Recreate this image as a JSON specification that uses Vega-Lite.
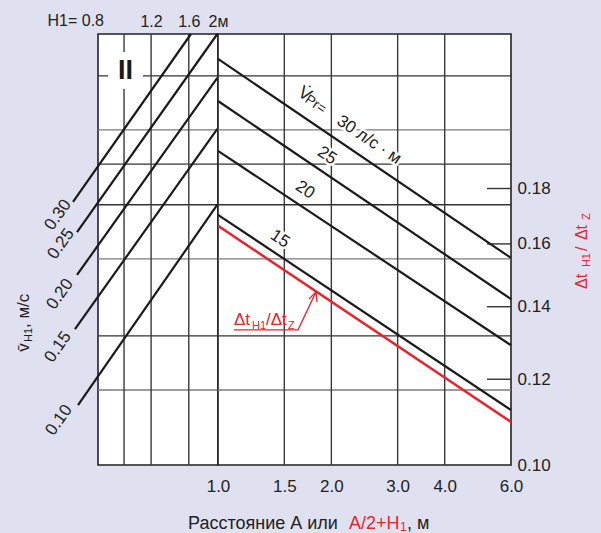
{
  "$schema": "https://vega.github.io/schema/vega-lite/v6.json",
  "background": "#e0e1f0",
  "padding": {"left": 14, "top": 11, "right": 10, "bottom": 2},
  "spacing": 0,
  "bounds": "flush",
  "resolve": {"scale": {"x": "independent", "y": "independent"}},
  "config": {
    "font": "Liberation Sans",
    "view": {"stroke": "#222", "strokeWidth": 1.6, "fill": "white"}
  },
  "datasets": {
    "hDark": [{"r": 0.2287}, {"r": 0.1896}, {"r": 0.1739}, {"r": 0.1316}],
    "hGray": [{"r": 0.2039}, {"r": 0.155}, {"r": 0.1173}],
    "vel": [
      {"vh": 0.30, "H1": 0.661, "r": 0.175}, {"vh": 0.30, "H1": 1.627, "r": 0.25},
      {"vh": 0.25, "H1": 0.6815, "r": 0.1641}, {"vh": 0.25, "H1": 1.99, "r": 0.25},
      {"vh": 0.20, "H1": 0.6815, "r": 0.1498}, {"vh": 0.20, "H1": 1.99, "r": 0.2277},
      {"vh": 0.15, "H1": 0.6711, "r": 0.1335}, {"vh": 0.15, "H1": 1.99, "r": 0.2043},
      {"vh": 0.10, "H1": 0.6867, "r": 0.1136}, {"vh": 0.10, "H1": 1.99, "r": 0.1739}
    ],
    "velLabels": [
      {"t": "0.30", "H1": 0.5894, "r": 0.1702},
      {"t": "0.25", "H1": 0.6031, "r": 0.16},
      {"t": "0.20", "H1": 0.5986, "r": 0.1438},
      {"t": "0.15", "H1": 0.5894, "r": 0.1285},
      {"t": "0.10", "H1": 0.594, "r": 0.11}
    ],
    "flow": [
      {"q": 30, "A": 1, "r": 0.2371}, {"q": 30, "A": 6, "r": 0.1553},
      {"q": 25, "A": 1, "r": 0.2168}, {"q": 25, "A": 6, "r": 0.1423},
      {"q": 20, "A": 1, "r": 0.195}, {"q": 20, "A": 6, "r": 0.129},
      {"q": 15, "A": 1, "r": 0.1702}, {"q": 15, "A": 6, "r": 0.1124}
    ],
    "red": [{"A": 1, "r": 0.1663}, {"A": 6, "r": 0.1096}],
    "flowLabels": [
      {"t": "30 л/с · м", "A": 2.518, "r": 0.1996},
      {"t": "25", "A": 1.948, "r": 0.193},
      {"t": "20", "A": 1.703, "r": 0.1795},
      {"t": "15", "A": 1.461, "r": 0.1617}
    ],
    "vdot": [{"t": "V̇", "A": 1.6973, "r": 0.22}],
    "vsub": [{"t": "Pr=", "A": 1.8156, "r": 0.2152}]
  },
  "hconcat": [
    {
      "width": 120,
      "height": 431,
      "layer": [
        {"data": {"name": "hDark"}, "mark": {"type": "rule", "color": "#333", "strokeWidth": 1.4},
          "encoding": {"y": {"field": "r", "type": "quantitative", "scale": {"type": "log", "domain": [0.1, 0.25], "nice": false}, "axis": null}}},
        {"data": {"name": "hGray"}, "mark": {"type": "rule", "color": "#7a7a7a", "strokeWidth": 1.4},
          "encoding": {"y": {"field": "r", "type": "quantitative", "scale": {"type": "log", "domain": [0.1, 0.25], "nice": false}, "axis": null}}},
        {"data": {"values": [{"H1": 0.976}, {"H1": 1.2}, {"H1": 1.6}]},
          "mark": {"type": "rule", "color": "#3a3a3a", "strokeWidth": 1.4},
          "encoding": {"x": {"field": "H1", "type": "quantitative",
            "scale": {"type": "log", "domain": [0.8, 2], "nice": false},
            "axis": {"orient": "top", "values": [1.2, 1.6, 2],
              "labelExpr": "datum.value == 2 ? '2м' : format(datum.value, '.1f')",
              "ticks": false, "domain": false, "grid": false, "title": null,
              "labelFontSize": 16, "labelColor": "#222", "labelPadding": 5,
              "labelOverlap": false, "labelFlush": false, "labelBound": false}}}},
        {"data": {"values": [{"H1": 0.8635, "H1b": 1.1282, "r": 0.2224, "rb": 0.2406}]},
          "mark": {"type": "rect", "fill": "white"},
          "encoding": {
            "x": {"field": "H1", "type": "quantitative", "scale": {"type": "log", "domain": [0.8, 2], "nice": false}},
            "x2": {"field": "H1b"},
            "y": {"field": "r", "type": "quantitative", "scale": {"type": "log", "domain": [0.1, 0.25], "nice": false}, "axis": null},
            "y2": {"field": "rb"}}},
        {"data": {"values": [{"H1": 0.9869, "r": 0.2311, "t": "II"}]},
          "mark": {"type": "text", "fontSize": 27, "fontWeight": "bold", "fill": "#1a1a1a", "align": "center", "baseline": "middle"},
          "encoding": {
            "x": {"field": "H1", "type": "quantitative", "scale": {"type": "log", "domain": [0.8, 2], "nice": false}},
            "y": {"field": "r", "type": "quantitative", "scale": {"type": "log", "domain": [0.1, 0.25], "nice": false}, "axis": null},
            "text": {"field": "t"}}},
        {"data": {"name": "vel"},
          "mark": {"type": "line", "color": "#1a1a1a", "strokeWidth": 2.2},
          "encoding": {
            "x": {"field": "H1", "type": "quantitative", "scale": {"type": "log", "domain": [0.8, 2], "nice": false}},
            "y": {"field": "r", "type": "quantitative", "scale": {"type": "log", "domain": [0.1, 0.25], "nice": false}, "axis": null},
            "detail": {"field": "vh", "type": "nominal"}}},
        {"data": {"name": "velLabels"},
          "mark": {"type": "text", "angle": -55, "fontSize": 17, "fill": "#222", "align": "center", "baseline": "middle"},
          "encoding": {
            "x": {"field": "H1", "type": "quantitative", "scale": {"type": "log", "domain": [0.8, 2], "nice": false}},
            "y": {"field": "r", "type": "quantitative", "scale": {"type": "log", "domain": [0.1, 0.25], "nice": false}, "axis": null},
            "text": {"field": "t"}}},
        {"data": {"values": [{"H1": 0.8375, "r": 0.2544, "t": "H1= 0.8"}]},
          "mark": {"type": "text", "fontSize": 16, "fill": "#222", "align": "right", "baseline": "alphabetic"},
          "encoding": {
            "x": {"field": "H1", "type": "quantitative", "scale": {"type": "log", "domain": [0.8, 2], "nice": false}},
            "y": {"field": "r", "type": "quantitative", "scale": {"type": "log", "domain": [0.1, 0.25], "nice": false}, "axis": null},
            "text": {"field": "t"}}},
        {"data": {"values": [{"H1": 0.4722, "r": 0.1272, "t": "v̄"}, {"H1": 0.4722, "r": 0.1338, "t": ", м/с"}]},
          "mark": {"type": "text", "angle": -90, "fontSize": 17, "fill": "#222", "align": "left", "baseline": "alphabetic"},
          "encoding": {
            "x": {"field": "H1", "type": "quantitative", "scale": {"type": "log", "domain": [0.8, 2], "nice": false}},
            "y": {"field": "r", "type": "quantitative", "scale": {"type": "log", "domain": [0.1, 0.25], "nice": false}, "axis": null},
            "text": {"field": "t"}}},
        {"data": {"values": [{"H1": 0.4832, "r": 0.1299, "t": "H1"}]},
          "mark": {"type": "text", "angle": -90, "fontSize": 11, "fill": "#222", "align": "left", "baseline": "alphabetic"},
          "encoding": {
            "x": {"field": "H1", "type": "quantitative", "scale": {"type": "log", "domain": [0.8, 2], "nice": false}},
            "y": {"field": "r", "type": "quantitative", "scale": {"type": "log", "domain": [0.1, 0.25], "nice": false}, "axis": null},
            "text": {"field": "t"}}}
      ]
    },
    {
      "width": 293,
      "height": 431,
      "layer": [
        {"data": {"name": "hDark"}, "mark": {"type": "rule", "color": "#333", "strokeWidth": 1.4},
          "encoding": {"y": {"field": "r", "type": "quantitative",
            "scale": {"type": "log", "domain": [0.1, 0.25], "nice": false},
            "axis": {"orient": "right", "values": [0.1, 0.12, 0.14, 0.16, 0.18], "format": ".2f",
              "ticks": false, "domain": false, "grid": false, "title": null,
              "labelFontSize": 17, "labelColor": "#222", "labelPadding": 6,
              "labelOverlap": false, "labelFlush": false, "labelBound": false}}}},
        {"data": {"name": "hGray"}, "mark": {"type": "rule", "color": "#7a7a7a", "strokeWidth": 1.4},
          "encoding": {"y": {"field": "r", "type": "quantitative", "scale": {"type": "log", "domain": [0.1, 0.25], "nice": false}}}},
        {"data": {"values": [{"A": 1.5}, {"A": 2}, {"A": 3}, {"A": 4}]},
          "mark": {"type": "rule", "color": "#3a3a3a", "strokeWidth": 1.4},
          "encoding": {"x": {"field": "A", "type": "quantitative",
            "scale": {"type": "log", "domain": [1, 6], "nice": false},
            "axis": {"orient": "bottom", "values": [1, 1.5, 2, 3, 4, 6], "format": ".1f",
              "ticks": false, "domain": false, "grid": false, "title": null,
              "labelFontSize": 17, "labelColor": "#222", "labelPadding": 13,
              "labelOverlap": false, "labelFlush": false, "labelBound": false}}}},
        {"data": {"values": [{"r": 0.12}, {"r": 0.14}, {"r": 0.16}, {"r": 0.18}]},
          "mark": {"type": "rule", "color": "#333", "strokeWidth": 1.4},
          "encoding": {
            "x": {"datum": 5.18, "type": "quantitative", "scale": {"type": "log", "domain": [1, 6], "nice": false}},
            "x2": {"datum": 6},
            "y": {"field": "r", "type": "quantitative", "scale": {"type": "log", "domain": [0.1, 0.25], "nice": false}}}},
        {"data": {"name": "flow"},
          "mark": {"type": "line", "color": "#1a1a1a", "strokeWidth": 2.2},
          "encoding": {
            "x": {"field": "A", "type": "quantitative", "scale": {"type": "log", "domain": [1, 6], "nice": false}},
            "y": {"field": "r", "type": "quantitative", "scale": {"type": "log", "domain": [0.1, 0.25], "nice": false}},
            "detail": {"field": "q", "type": "nominal"}}},
        {"data": {"name": "red"},
          "mark": {"type": "line", "color": "#e8232a", "strokeWidth": 2.5},
          "encoding": {
            "x": {"field": "A", "type": "quantitative", "scale": {"type": "log", "domain": [1, 6], "nice": false}},
            "y": {"field": "r", "type": "quantitative", "scale": {"type": "log", "domain": [0.1, 0.25], "nice": false}}}},
        {"data": {"values": [{"A": 1.1027, "r": 0.1333}, {"A": 1.6315, "r": 0.1333}, {"A": 1.8212, "r": 0.1445}]},
          "mark": {"type": "line", "color": "#e8232a", "strokeWidth": 1.3},
          "encoding": {
            "x": {"field": "A", "type": "quantitative", "scale": {"type": "log", "domain": [1, 6], "nice": false}},
            "y": {"field": "r", "type": "quantitative", "scale": {"type": "log", "domain": [0.1, 0.25], "nice": false}}}},
        {"data": {"values": [{"A": 1.7447, "r": 0.1423}, {"A": 1.8212, "r": 0.1445}, {"A": 1.8324, "r": 0.1414}]},
          "mark": {"type": "line", "color": "#e8232a", "strokeWidth": 1.3},
          "encoding": {
            "x": {"field": "A", "type": "quantitative", "scale": {"type": "log", "domain": [1, 6], "nice": false}},
            "y": {"field": "r", "type": "quantitative", "scale": {"type": "log", "domain": [0.1, 0.25], "nice": false}}}},
        {"data": {"name": "flowLabels"},
          "mark": {"type": "text", "angle": 34, "fontSize": 17, "fill": "white", "stroke": "white", "strokeWidth": 5, "strokeJoin": "round", "align": "center", "baseline": "middle"},
          "encoding": {
            "x": {"field": "A", "type": "quantitative", "scale": {"type": "log", "domain": [1, 6], "nice": false}},
            "y": {"field": "r", "type": "quantitative", "scale": {"type": "log", "domain": [0.1, 0.25], "nice": false}},
            "text": {"field": "t"}}},
        {"data": {"name": "vdot"},
          "mark": {"type": "text", "angle": 34, "fontSize": 18, "fill": "white", "stroke": "white", "strokeWidth": 5, "strokeJoin": "round", "align": "center", "baseline": "middle"},
          "encoding": {
            "x": {"field": "A", "type": "quantitative", "scale": {"type": "log", "domain": [1, 6], "nice": false}},
            "y": {"field": "r", "type": "quantitative", "scale": {"type": "log", "domain": [0.1, 0.25], "nice": false}},
            "text": {"field": "t"}}},
        {"data": {"name": "vsub"},
          "mark": {"type": "text", "angle": 34, "fontSize": 14, "fill": "white", "stroke": "white", "strokeWidth": 5, "strokeJoin": "round", "align": "center", "baseline": "middle"},
          "encoding": {
            "x": {"field": "A", "type": "quantitative", "scale": {"type": "log", "domain": [1, 6], "nice": false}},
            "y": {"field": "r", "type": "quantitative", "scale": {"type": "log", "domain": [0.1, 0.25], "nice": false}},
            "text": {"field": "t"}}},
        {"data": {"name": "flowLabels"},
          "mark": {"type": "text", "angle": 34, "fontSize": 17, "fill": "#222", "align": "center", "baseline": "middle"},
          "encoding": {
            "x": {"field": "A", "type": "quantitative", "scale": {"type": "log", "domain": [1, 6], "nice": false}},
            "y": {"field": "r", "type": "quantitative", "scale": {"type": "log", "domain": [0.1, 0.25], "nice": false}},
            "text": {"field": "t"}}},
        {"data": {"name": "vdot"},
          "mark": {"type": "text", "angle": 34, "fontSize": 18, "fill": "#222", "align": "center", "baseline": "middle"},
          "encoding": {
            "x": {"field": "A", "type": "quantitative", "scale": {"type": "log", "domain": [1, 6], "nice": false}},
            "y": {"field": "r", "type": "quantitative", "scale": {"type": "log", "domain": [0.1, 0.25], "nice": false}},
            "text": {"field": "t"}}},
        {"data": {"name": "vsub"},
          "mark": {"type": "text", "angle": 34, "fontSize": 14, "fill": "#222", "align": "center", "baseline": "middle"},
          "encoding": {
            "x": {"field": "A", "type": "quantitative", "scale": {"type": "log", "domain": [1, 6], "nice": false}},
            "y": {"field": "r", "type": "quantitative", "scale": {"type": "log", "domain": [0.1, 0.25], "nice": false}},
            "text": {"field": "t"}}},
        {"data": {"values": [{"A": 1.1027, "r": 0.1347, "t": "Δt"}, {"A": 1.3413, "r": 0.1347, "t": "/Δt"}]},
          "mark": {"type": "text", "fontSize": 17, "fill": "#e8232a", "align": "left", "baseline": "alphabetic"},
          "encoding": {
            "x": {"field": "A", "type": "quantitative", "scale": {"type": "log", "domain": [1, 6], "nice": false}},
            "y": {"field": "r", "type": "quantitative", "scale": {"type": "log", "domain": [0.1, 0.25], "nice": false}},
            "text": {"field": "t"}}},
        {"data": {"values": [{"A": 1.2309, "r": 0.1335, "t": "H1"}, {"A": 1.5346, "r": 0.1335, "t": "Z"}]},
          "mark": {"type": "text", "fontSize": 11, "fill": "#e8232a", "align": "left", "baseline": "alphabetic"},
          "encoding": {
            "x": {"field": "A", "type": "quantitative", "scale": {"type": "log", "domain": [1, 6], "nice": false}},
            "y": {"field": "r", "type": "quantitative", "scale": {"type": "log", "domain": [0.1, 0.25], "nice": false}},
            "text": {"field": "t"}}},
        {"data": {"values": [{"A": 0.8325, "r": 0.08727, "t": "Расстояние А или"}, {"A": 3.1769, "r": 0.08727, "t": ", м"}]},
          "mark": {"type": "text", "fontSize": 18, "fill": "#222", "align": "left", "baseline": "alphabetic"},
          "encoding": {
            "x": {"field": "A", "type": "quantitative", "scale": {"type": "log", "domain": [1, 6], "nice": false}},
            "y": {"field": "r", "type": "quantitative", "scale": {"type": "log", "domain": [0.1, 0.25], "nice": false}},
            "text": {"field": "t"}}},
        {"data": {"values": [{"A": 2.2282, "r": 0.08727, "t": "A/2+H"}]},
          "mark": {"type": "text", "fontSize": 18, "fill": "#e8232a", "align": "left", "baseline": "alphabetic"},
          "encoding": {
            "x": {"field": "A", "type": "quantitative", "scale": {"type": "log", "domain": [1, 6], "nice": false}},
            "y": {"field": "r", "type": "quantitative", "scale": {"type": "log", "domain": [0.1, 0.25], "nice": false}},
            "text": {"field": "t"}}},
        {"data": {"values": [{"A": 3.0445, "r": 0.08685, "t": "1"}]},
          "mark": {"type": "text", "fontSize": 12, "fill": "#e8232a", "align": "left", "baseline": "alphabetic"},
          "encoding": {
            "x": {"field": "A", "type": "quantitative", "scale": {"type": "log", "domain": [1, 6], "nice": false}},
            "y": {"field": "r", "type": "quantitative", "scale": {"type": "log", "domain": [0.1, 0.25], "nice": false}},
            "text": {"field": "t"}}},
        {"data": {"values": [{"A": 9.5517, "r": 0.1454, "t": "Δt"}, {"A": 9.5517, "r": 0.1576, "t": "/"}, {"A": 9.5517, "r": 0.1613, "t": "Δt"}]},
          "mark": {"type": "text", "angle": -90, "fontSize": 16, "fill": "#e8232a", "align": "left", "baseline": "alphabetic"},
          "encoding": {
            "x": {"field": "A", "type": "quantitative", "scale": {"type": "log", "domain": [1, 6], "nice": false}},
            "y": {"field": "r", "type": "quantitative", "scale": {"type": "log", "domain": [0.1, 0.25], "nice": false}},
            "text": {"field": "t"}}},
        {"data": {"values": [{"A": 9.7286, "r": 0.1523, "t": "H1"}, {"A": 9.7286, "r": 0.1684, "t": "Z"}]},
          "mark": {"type": "text", "angle": -90, "fontSize": 11, "fill": "#e8232a", "align": "left", "baseline": "alphabetic"},
          "encoding": {
            "x": {"field": "A", "type": "quantitative", "scale": {"type": "log", "domain": [1, 6], "nice": false}},
            "y": {"field": "r", "type": "quantitative", "scale": {"type": "log", "domain": [0.1, 0.25], "nice": false}},
            "text": {"field": "t"}}}
      ]
    }
  ]
}
